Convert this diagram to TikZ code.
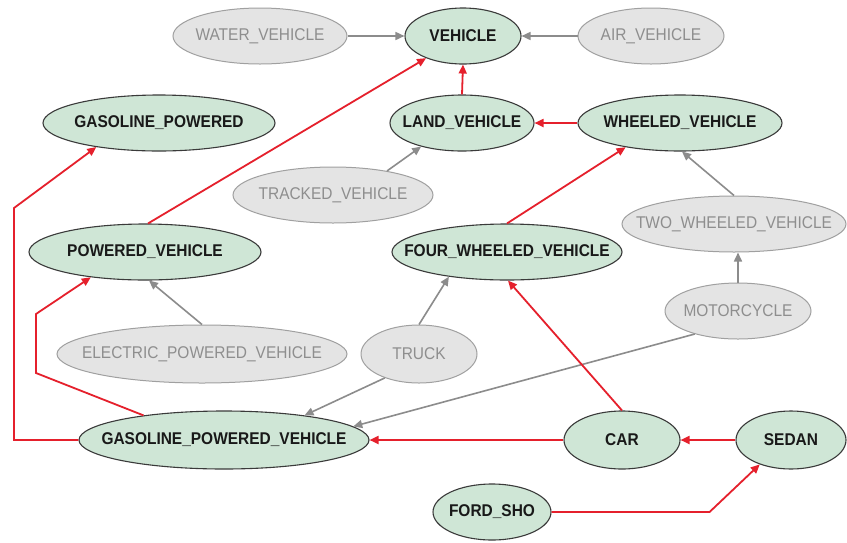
\documentclass[tikz,border=0pt]{standalone}
\usepackage{fontspec}
\setmainfont{Liberation Sans}
\newfontfamily\nodefont[FakeStretch=0.91]{Liberation Sans}
\usetikzlibrary{shapes.geometric,arrows.meta}
\definecolor{gfill}{HTML}{CFE6D6}
\definecolor{gline}{HTML}{3A3A3A}
\definecolor{xfill}{HTML}{E4E4E4}
\definecolor{xline}{HTML}{A0A0A0}
\definecolor{xtext}{HTML}{8E8E8E}
\definecolor{redl}{HTML}{E5202C}
\definecolor{grayl}{HTML}{8C8C8C}
\tikzset{
  base/.style={ellipse, inner sep=-80pt, font=\nodefont\fontsize{17}{19}\selectfont},
  green/.style={base, fill=gfill, draw=gline, line width=1.1pt, text=black!90, font=\nodefont\bfseries\fontsize{17}{19}\selectfont},
  grey/.style={base, fill=xfill, draw=xline, line width=1pt, text=xtext},
  sz/.style 2 args={minimum width=#1pt, minimum height=#2pt},
  redarrow/.style={draw=redl, line width=1.8pt, -{Triangle[length=9pt,width=8pt]}},
  grayarrow/.style={draw=grayl, line width=1.6pt, -{Triangle[length=9pt,width=8pt]}},
}
\begin{document}
\begin{tikzpicture}[x=1pt,y=-1pt]
\useasboundingbox (0,0) rectangle (847,542);
\fill[white] (0,0) rectangle (847,542);
% nodes
\node[green, sz={116}{56}] (vehicle) at (463,36) {VEHICLE};
\node[grey, sz={174}{56}] (water) at (260,36) {WATER\_VEHICLE};
\node[grey, sz={146}{56}] (air) at (651,36) {AIR\_VEHICLE};
\node[green, sz={232}{56}] (gp) at (159,123) {GASOLINE\_POWERED};
\node[green, sz={144}{56}] (land) at (462,123) {LAND\_VEHICLE};
\node[green, sz={204}{56}] (wheeled) at (680,123) {WHEELED\_VEHICLE};
\node[grey, sz={200}{56}] (tracked) at (333,195) {TRACKED\_VEHICLE};
\node[grey, sz={224}{56}] (two) at (734,224) {TWO\_WHEELED\_VEHICLE};
\node[green, sz={232}{56}] (pv) at (145,252) {POWERED\_VEHICLE};
\node[green, sz={230}{56}] (four) at (507,252) {FOUR\_WHEELED\_VEHICLE};
\node[grey, sz={146}{56}] (motor) at (738,311) {MOTORCYCLE};
\node[grey, sz={290}{58}] (electric) at (202,354) {ELECTRIC\_POWERED\_VEHICLE};
\node[grey, sz={116}{58}] (truck) at (419,354) {TRUCK};
\node[green, sz={290}{58}] (gpv) at (224,440) {GASOLINE\_POWERED\_VEHICLE};
\node[green, sz={116}{58}] (car) at (622,440) {CAR};
\node[green, sz={110}{58}] (sedan) at (791,440) {SEDAN};
\node[green, sz={118}{56}] (ford) at (492,512) {FORD\_SHO};
% gray connectors
\draw[grayarrow] (water.east) -- (vehicle.west);
\draw[grayarrow] (air.west) -- (vehicle.east);
\draw[grayarrow] (tracked.24) -- (land.210);
\draw[grayarrow] (two.north) -- (wheeled.-86);
\draw[grayarrow] (motor.north) -- (motor.north |- two.south);
\draw[grayarrow] (electric.north) -- (pv.-82);
\draw[grayarrow] (truck.north) -- (four.203);
\draw[grayarrow] (truck.215) -- (gpv.17);
\draw[grayarrow] (motor.208) -- (gpv.6);
% red connectors
\draw[redarrow] (land.north) -- (vehicle.south);
\draw[redarrow] (wheeled.west) -- (land.east);
\draw[redarrow] (pv.84) -- (vehicle.211);
\draw[redarrow] (four.north) -- (wheeled.204);
\draw[redarrow] (car.north) -- (four.-88);
\draw[redarrow] (car.west) -- (gpv.east);
\draw[redarrow] (sedan.west) -- (car.east);
\draw[redarrow] (ford.east) -- ++(158,0) -- (sedan.218);
\draw[redarrow] (gpv.163) -- (36,373) -- (36,314) -- (pv.205);
\draw[redarrow] (gpv.west) -| (14,208) -- (gp.201);
\end{tikzpicture}
\end{document}
